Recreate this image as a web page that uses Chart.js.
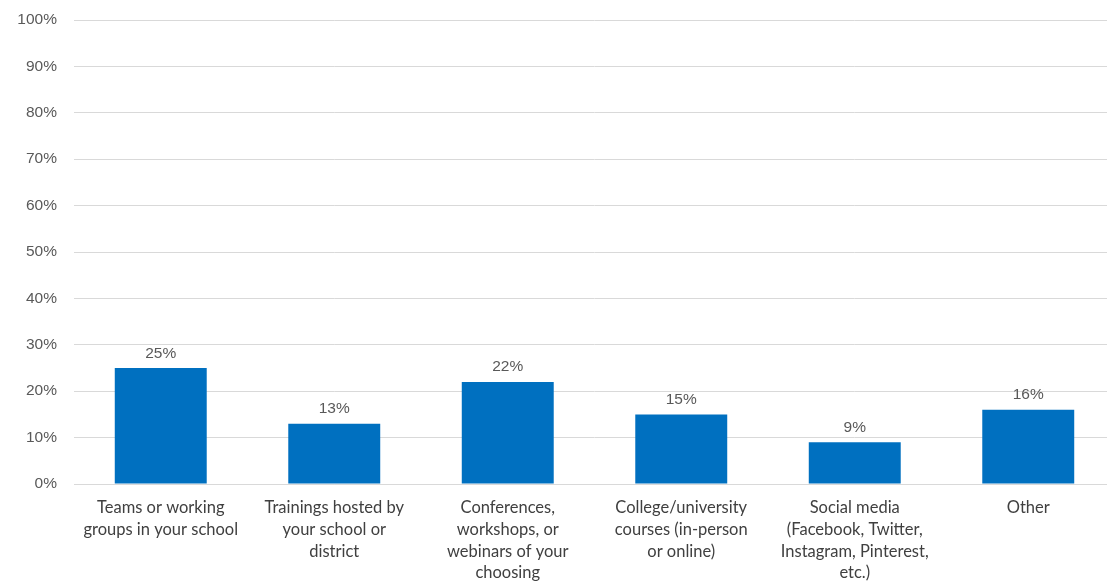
<!DOCTYPE html>
<html>
<head>
<meta charset="utf-8">
<script src="https://cdn.jsdelivr.net/npm/chart.js@4"></script>
<style>
  html, body { margin: 0; padding: 0; background: #ffffff; overflow: hidden; }
  #wrap { width: 1115px; height: 582px; position: relative; }
</style>
</head>
<body>
<div id="wrap"><canvas id="c"></canvas></div>
<script>
// Professional learning sources (share of respondents)
const categories = [
  ["Teams or working", "groups in your school"],
  ["Trainings hosted by", "your school or", "district"],
  ["Conferences,", "workshops, or", "webinars of your", "choosing"],
  ["College/university", "courses (in-person", "or online)"],
  ["Social media", "(Facebook, Twitter,", "Instagram, Pinterest,", "etc.)"],
  ["Other"]
];
const shares = [25, 13, 22, 15, 9, 16];
const yTicks = [0, 10, 20, 30, 40, 50, 60, 70, 80, 90, 100];

// Draws each bar's value as a percent label just above the bar
const valueLabels = {
  id: 'valueLabels',
  afterDatasetsDraw(chart) {
    const ctx = chart.ctx;
    const meta = chart.getDatasetMeta(0);
    const data = chart.data.datasets[0].data;
    ctx.save();
    ctx.font = '15.5px "Liberation Sans", Arial, sans-serif';
    ctx.fillStyle = '#595959';
    ctx.textAlign = 'center';
    ctx.textBaseline = 'bottom';
    meta.data.forEach((bar, i) => {
      ctx.fillText(data[i] + '%', bar.x, bar.y - 7);
    });
    ctx.restore();
  }
};

new Chart(document.getElementById('c'), {
  type: 'bar',
  data: {
    labels: categories,
    datasets: [{
      data: shares,
      backgroundColor: '#0070C0',
      borderWidth: 0,
      barPercentage: 0.53,
      categoryPercentage: 1.0
    }]
  },
  options: {
    responsive: true,
    maintainAspectRatio: false,
    animation: false,
    layout: { padding: { top: 20, right: 0, bottom: 0, left: 0 } },
    plugins: {
      legend: { display: false },
      tooltip: { enabled: false }
    },
    scales: {
      x: {
        grid: { display: false, drawTicks: false },
        border: { display: true, color: '#d9d9d9', width: 1 },
        ticks: {
          color: '#404040',
          font: { family: 'Lato, "Open Sans", sans-serif', size: 16.5, lineHeight: 1.315 },
          padding: 13,
          maxRotation: 0,
          autoSkip: false
        },
        afterFit(scale) { scale.height = 98; }
      },
      y: {
        min: 0,
        max: 100,
        afterBuildTicks(scale) { scale.ticks = yTicks.map(v => ({ value: v })); },
        grid: { color: '#d9d9d9', lineWidth: 1, drawTicks: false },
        border: { display: false },
        ticks: {
          color: '#595959',
          font: { family: '"Liberation Sans", Arial, sans-serif', size: 15.5 },
          padding: 17,
          callback: v => v + '%'
        },
        afterFit(scale) {
          scale.width = 74;
          scale.paddingTop = 0;
          scale.paddingBottom = 0;
        }
      }
    }
  },
  plugins: [valueLabels]
});
</script>
</body>
</html>
